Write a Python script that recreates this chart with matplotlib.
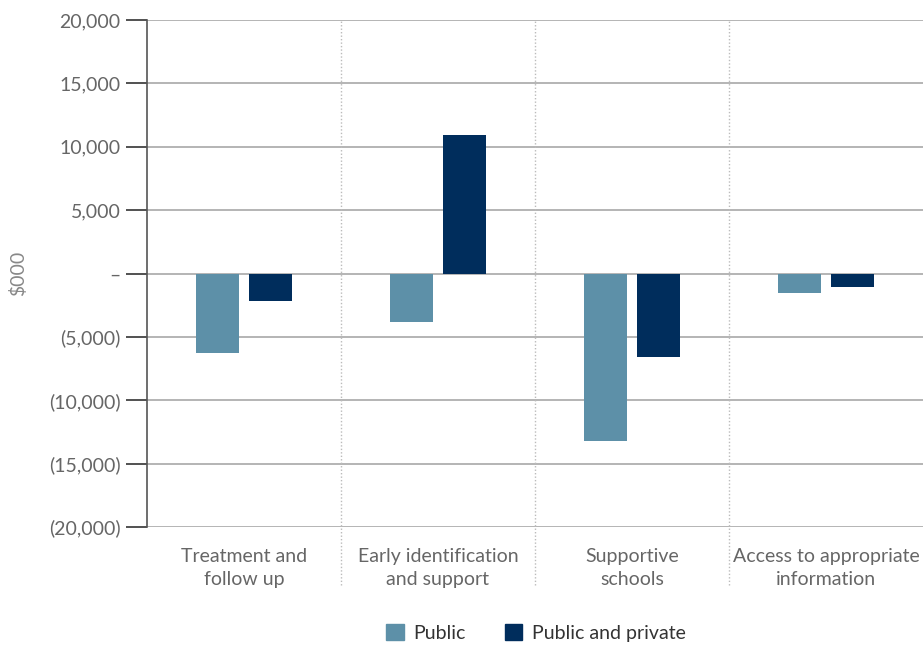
import numpy as np
import matplotlib.pyplot as plt
from matplotlib.ticker import FuncFormatter
from matplotlib.patches import Patch

plt.rcParams['font.family'] = ['Lato', 'DejaVu Sans']

categories = ["Treatment and\nfollow up", "Early identification\nand support",
              "Supportive\nschools", "Access to appropriate\ninformation"]
public = [-6300, -3800, -13200, -1500]
public_private = [-2200, 10900, -6600, -1100]
yticks = [-20000, -15000, -10000, -5000, 0, 5000, 10000, 15000, 20000]

c_pub = "#5d90a8"
c_pp = "#002d5c"
grey = "#666666"

fig = plt.figure(figsize=(9.23, 6.46), dpi=100)
ax = fig.add_axes([147/923, 1 - 527/646, 776/923, 507/646])

x = np.arange(len(categories))
w = 0.22
ax.bar(x - 0.135, public, w, color=c_pub, zorder=3)
ax.bar(x + 0.135, public_private, w, color=c_pp, zorder=3)

ax.set_xlim(-0.5, len(categories) - 0.5)
ax.set_ylim(-20000, 20000)
ax.set_yticks(yticks)

def fmt(v, pos):
    if v == 0:
        return "–"
    if v < 0:
        return "({:,.0f})".format(-v)
    return "{:,.0f}".format(v)

ax.yaxis.set_major_formatter(FuncFormatter(fmt))
ax.grid(axis='y', color='#a8a8a8', lw=1.2, zorder=0)
ax.set_axisbelow(True)

for s in ['top', 'right', 'bottom']:
    ax.spines[s].set_visible(False)
ax.spines['left'].set_color('#555555')
ax.spines['left'].set_linewidth(1.2)

ax.tick_params(axis='y', length=15, width=1.2, color='#333333',
               labelsize=14, labelcolor=grey, pad=4)
ax.tick_params(axis='x', length=0, labelsize=14, labelcolor=grey, pad=15)
ax.set_xticks(x)
ax.set_xticklabels(categories, linespacing=1.45)

# dotted category separators
for xs in x[:-1] + 0.5:
    ax.axvline(xs, ymin=-0.115, ymax=1, color='#bbbbbb', lw=1,
               ls=(0, (1, 1.5)), clip_on=False, zorder=1)

ax.set_ylabel("$000", color='#888888', fontsize=14)
ax.yaxis.set_label_coords(-0.155, 0.5)

handles = [Patch(color=c_pub, label="Public"),
           Patch(color=c_pp, label="Public and private")]
fig.legend(handles=handles, loc='center', bbox_to_anchor=(536/923, 1 - 633/646),
           ncol=2, frameon=False, fontsize=14, labelcolor='#333333',
           handlelength=0.9, handleheight=0.9, columnspacing=2.0, handletextpad=0.5)

fig.savefig("out.png", dpi=100)
